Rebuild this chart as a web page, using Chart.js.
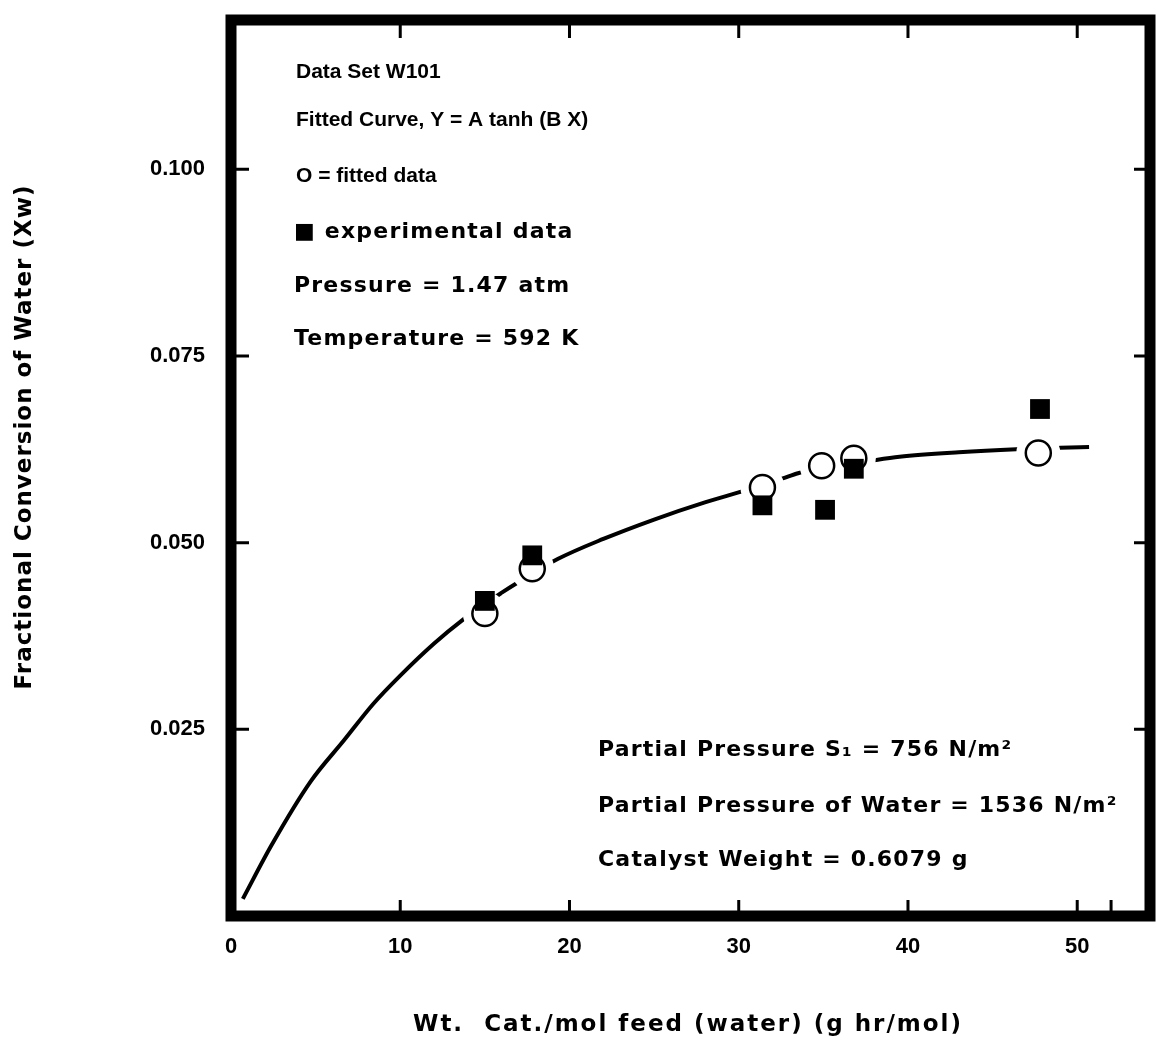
<!DOCTYPE html>
<html>
<head>
<meta charset="utf-8">
<script src="https://cdn.jsdelivr.net/npm/chart.js@4"></script>
<style>
  html, body { margin: 0; padding: 0; background: #fff; }
  #wrap { width: 1156px; height: 1049px; }
</style>
</head>
<body>
<div id="wrap"><canvas id="chart" width="1156" height="1049"></canvas></div>
<script>
// values
const fittedX = [15.0, 17.8, 31.4, 34.9, 36.8, 47.7];
const fittedY = [0.0405, 0.0465, 0.0574, 0.0603, 0.0613, 0.0620];
const expX = [15.0, 17.8, 31.4, 35.1, 36.8, 47.8];
const expY = [0.0422, 0.0483, 0.0550, 0.0544, 0.0599, 0.0679];
const curveX = [0.7, 2.4, 4.7, 6.7, 8.4, 10, 12, 13.6, 16.0, 16.9, 19.3, 22, 25, 28, 30.4, 32.6, 33.5, 34.9, 36.8, 37.9, 39.5, 43, 46.4, 49, 50.7];
const curveY = [0.0023, 0.0095, 0.0180, 0.0236, 0.0284, 0.0322, 0.0365, 0.0395, 0.0433, 0.0446, 0.0478, 0.0505, 0.0531, 0.0554, 0.0570, 0.0586, 0.0593, 0.0600, 0.0606, 0.0610, 0.0615, 0.0621, 0.0625, 0.0627, 0.0628];
const xTicks = [0, 10, 20, 30, 40, 50];
const xMarksBottom = [10, 20, 30, 40, 50, 52];
const xMarksTop = [10, 20, 30, 40, 50];
const yTicks = [0.025, 0.050, 0.075, 0.100];
const xTitle = 'Wt.  Cat./mol feed (water) (g hr/mol)';
const yTitle = 'Fractional Conversion of Water (Xw)';
const notesNarrow = ['Data Set W101', 'Fitted Curve, Y = A tanh (B X)', 'O = fitted data'];
const notesWide = ['\u25A0 experimental data', 'Pressure = 1.47 atm', 'Temperature = 592 K'];
const notesBottom = ['Partial Pressure S\u2081 = 756 N/m\u00B2', 'Partial Pressure of Water = 1536 N/m\u00B2', 'Catalyst Weight = 0.6079 g'];

const pts = (xs, ys) => xs.map((x, i) => ({ x: x, y: ys[i] }));
const FONT = '"Liberation Sans", Arial, sans-serif';
const WIDE = '"DejaVu Sans", Verdana, sans-serif';

const framePlugin = {
    id: 'frame',
    afterDraw(chart) {
        const ctx = chart.ctx;
        const a = chart.chartArea;
        const xs = chart.scales.x, ys = chart.scales.y;
        ctx.save();
        ctx.strokeStyle = '#000';
        ctx.fillStyle = '#000';
        // thick box
        ctx.lineWidth = 11;
        ctx.strokeRect(a.left, a.top, a.right - a.left, a.bottom - a.top);
        // inward tick marks
        ctx.lineWidth = 3;
        ctx.beginPath();
        xMarksBottom.forEach(v => {
            const px = xs.getPixelForValue(v);
            ctx.moveTo(px, a.bottom); ctx.lineTo(px, a.bottom - 16);
        });
        xMarksTop.forEach(v => {
            const px = xs.getPixelForValue(v);
            ctx.moveTo(px, a.top); ctx.lineTo(px, a.top + 18);
        });
        yTicks.forEach(v => {
            const py = ys.getPixelForValue(v);
            ctx.moveTo(a.left, py); ctx.lineTo(a.left + 18, py);
            ctx.moveTo(a.right, py); ctx.lineTo(a.right - 16, py);
        });
        ctx.stroke();

        ctx.textBaseline = 'middle';
        ctx.textAlign = 'left';
        // condensed lines at top
        ctx.font = 'bold 21px ' + FONT;
        const narrowY = [72, 120, 176];
        notesNarrow.forEach((t, i) => ctx.fillText(t, 296, narrowY[i]));
        // wide lettering
        ctx.font = 'bold 22px ' + WIDE;
        ctx.letterSpacing = '1.2px';
        const wideY = [232, 286, 339];
        notesWide.forEach((t, i) => ctx.fillText(t, 294, wideY[i]));
        const botY = [750, 806, 860];
        notesBottom.forEach((t, i) => ctx.fillText(t, 598, botY[i]));

        // axis titles
        ctx.textAlign = 'center';
        ctx.font = 'bold 23px ' + WIDE;
        ctx.letterSpacing = '2px';
        ctx.fillText(xTitle, 688, 1025);
        ctx.save();
        ctx.translate(25, 437);
        ctx.rotate(-Math.PI / 2);
        ctx.font = 'bold 23px ' + WIDE;
        ctx.letterSpacing = '1px';
        ctx.fillText(yTitle, 0, 0);
        ctx.restore();
        ctx.restore();
    }
};

new Chart(document.getElementById('chart'), {
    type: 'scatter',
    data: {
        datasets: [
            {
                label: 'Fitted curve',
                type: 'line',
                data: pts(curveX, curveY),
                borderColor: '#000',
                borderWidth: 4,
                pointRadius: 0,
                cubicInterpolationMode: 'monotone',
                fill: false,
                order: 4
            },
            {
                label: 'gap',
                data: pts(fittedX, fittedY),
                pointStyle: 'circle',
                pointRadius: 22,
                backgroundColor: '#fff',
                borderWidth: 0,
                order: 3
            },
            {
                label: 'Fitted data',
                data: pts(fittedX, fittedY),
                pointStyle: 'circle',
                pointRadius: 12.5,
                backgroundColor: '#fff',
                borderColor: '#000',
                borderWidth: 2.5,
                order: 2
            },
            {
                label: 'Experimental data',
                data: pts(expX, expY),
                pointStyle: 'rect',
                pointRadius: 14,
                backgroundColor: '#000',
                borderColor: '#000',
                borderWidth: 0,
                order: 1
            }
        ]
    },
    options: {
        responsive: false,
        animation: false,
        layout: { autoPadding: false, padding: { top: 20, right: 6, left: 0, bottom: 0 } },
        plugins: {
            legend: { display: false },
            tooltip: { enabled: false }
        },
        scales: {
            x: {
                type: 'linear',
                min: 0,
                max: 54.3,
                afterFit: (s) => { s.height = 133; s.paddingLeft = 0; s.paddingRight = 0; },
                afterBuildTicks: (s) => { s.ticks = xTicks.map(v => ({ value: v })); },
                grid: { display: false, drawTicks: false },
                border: { display: false },
                ticks: {
                    padding: 18,
                    color: '#000',
                    font: { family: FONT, size: 22, weight: 'bold' }
                }
            },
            y: {
                type: 'linear',
                min: 0,
                max: 0.12,
                afterFit: (s) => { s.width = 231; s.paddingTop = 0; s.paddingBottom = 0; },
                afterBuildTicks: (s) => { s.ticks = yTicks.map(v => ({ value: v })); },
                grid: { display: false, drawTicks: false },
                border: { display: false },
                ticks: {
                    padding: 26,
                    color: '#000',
                    font: { family: FONT, size: 22, weight: 'bold' },
                    callback: (v) => Number(v).toFixed(3)
                }
            }
        }
    },
    plugins: [framePlugin]
});
</script>
</body>
</html>
